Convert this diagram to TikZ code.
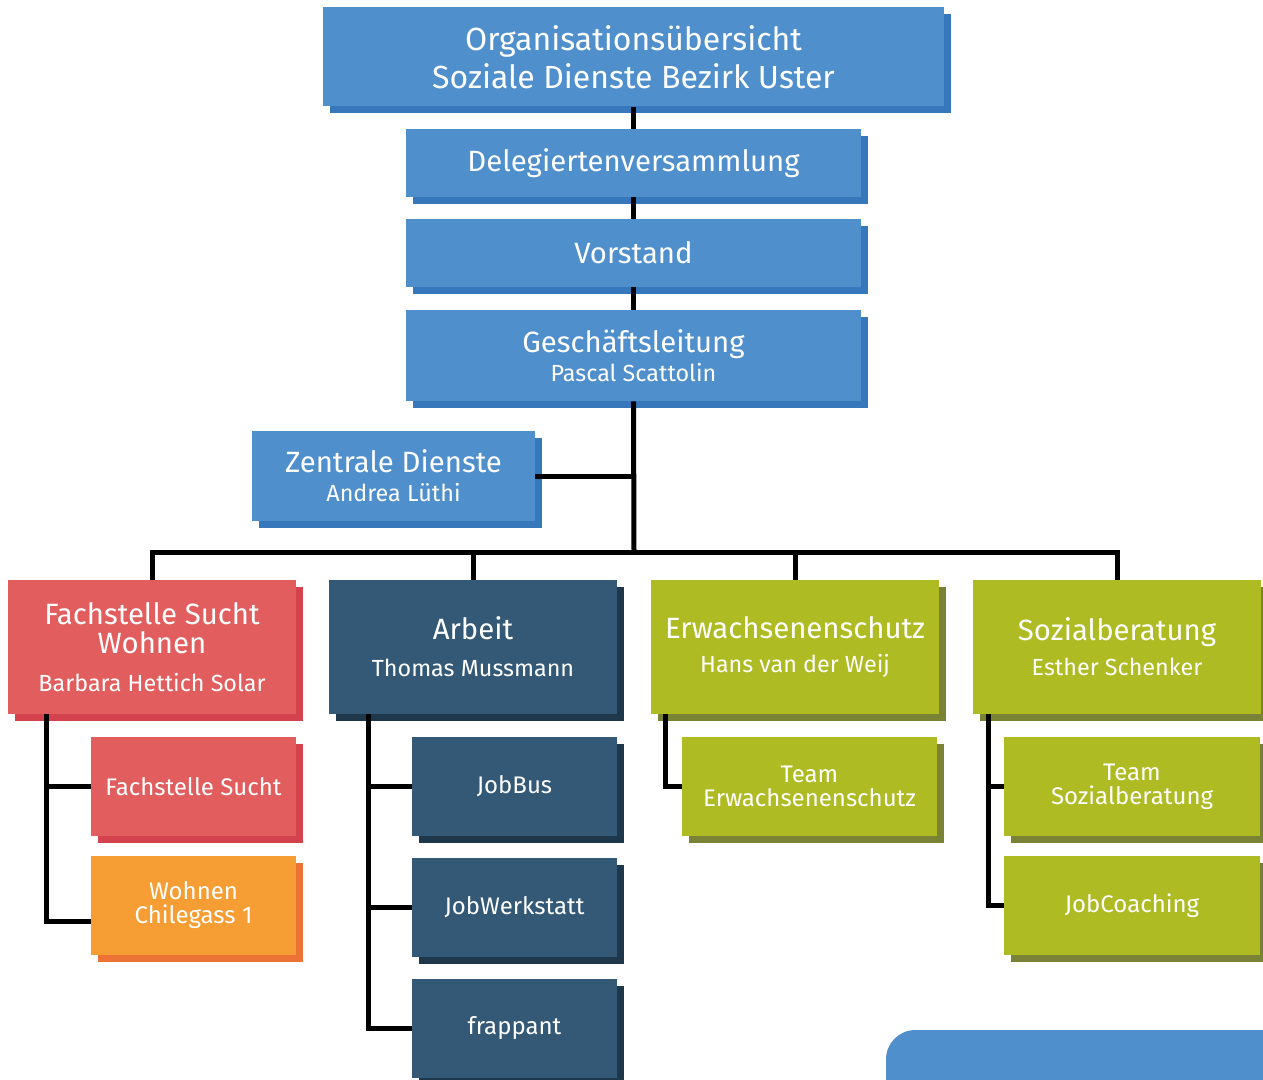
\documentclass[tikz,border=0pt]{standalone}
\usepackage{fontspec}
\setmainfont{Fira Sans}
\usetikzlibrary{positioning,shadows,calc}
\definecolor{blueFace}{HTML}{4F8FCC}
\definecolor{blueShadow}{HTML}{3777BC}
\definecolor{redFace}{HTML}{E25E5E}
\definecolor{redShadow}{HTML}{D4434D}
\definecolor{orangeFace}{HTML}{F69D33}
\definecolor{orangeShadow}{HTML}{EC7235}
\definecolor{darkFace}{HTML}{335977}
\definecolor{darkShadow}{HTML}{1E374B}
\definecolor{greenFace}{HTML}{AEBB22}
\definecolor{greenShadow}{HTML}{7A8235}
\newcommand\titleFont{\fontsize{24}{28.5}\selectfont}
\newcommand\headFont{\fontsize{22}{22}\selectfont}
\newcommand\nameFont{\fontsize{17.5}{20}\selectfont}
\newcommand\subFont{\fontsize{18}{18}\selectfont}
\tikzset{
	%Diagrammes style
	box/.style={
		rectangle,
		text=white,
		align=center,
		inner sep=0pt,
	},
	blueBox/.style={
		box,
		fill=blueFace,
		general shadow={fill=blueShadow, shadow xshift=5.25pt, shadow yshift=-5.25pt},
	},
	redBox/.style={
		box,
		fill=redFace,
		general shadow={fill=redShadow, shadow xshift=5.25pt, shadow yshift=-5.25pt},
	},
	orangeBox/.style={
		box,
		fill=orangeFace,
		general shadow={fill=orangeShadow, shadow xshift=5.25pt, shadow yshift=-5.25pt},
	},
	darkBox/.style={
		box,
		fill=darkFace,
		general shadow={fill=darkShadow, shadow xshift=5.25pt, shadow yshift=-5.25pt},
	},
	greenBox/.style={
		box,
		fill=greenFace,
		general shadow={fill=greenShadow, shadow xshift=5.25pt, shadow yshift=-5.25pt},
	},
	%sizes
	unitBox/.style={
		minimum width=216pt,
		minimum height=100.5pt,
		font=\headFont,
	},
	subBox/.style={
		minimum width=153.75pt,
		minimum height=74.25pt,
		font=\subFont,
	},
	link/.style={
		black,
		line width=3.75pt,
	},
}

\begin{document}
\begin{tikzpicture}[x=0.75pt, y=-0.75pt]
	\useasboundingbox (0,0) rectangle (1263,1080);

	% top of the organisation
	\node (title) at (633.5,57) [blueBox, minimum width=465.75pt, minimum height=74.25pt, font=\titleFont] {Organisationsübersicht\\ Soziale Dienste Bezirk Uster};
	\node (deleg) at (633.5,163) [blueBox, minimum width=341.25pt, minimum height=51pt, font=\headFont] {Delegiertenversammlung};
	\node (vorstand) at (633.5,253) [blueBox, minimum width=341.25pt, minimum height=51pt, font=\headFont] {Vorstand};
	\node (gl) at (633.5,355.5) [blueBox, minimum width=341.25pt, minimum height=68.25pt, font=\headFont] {Geschäftsleitung\\ \nameFont Pascal Scattolin};
	\node (zd) at (393.5,476) [blueBox, minimum width=212.25pt, minimum height=67.5pt, font=\headFont] {Zentrale Dienste\\ \nameFont Andrea Lüthi};
	\coordinate (hub) at (634,552);

	% departments
	\node (fsw) at (152,647) [redBox, unitBox] {Fachstelle Sucht\\ Wohnen\\[6pt] \nameFont Barbara Hettich Solar};
	\node (arbeit) at (473,647) [darkBox, unitBox] {Arbeit\\[6pt] \nameFont Thomas Mussmann};
	\node (erw) at (795,647) [greenBox, unitBox] {Erwachsenenschutz\strut\\[4pt] \nameFont Hans van der Weij};
	\node (soz) at (1117,647) [greenBox, unitBox] {Sozialberatung\strut\\[4pt] \nameFont Esther Schenker};

	% teams
	\node (fs) at (193.5,786.5) [redBox, subBox] {Fachstelle Sucht};
	\node (wohnen) at (193.5,905.5) [orangeBox, subBox] {Wohnen\\ Chilegass 1};
	\node (jobbus) at (514.5,786.5) [darkBox, subBox] {JobBus};
	\node (jobwerk) at (514.5,907.5) [darkBox, subBox] {JobWerkstatt};
	\node (frappant) at (514.5,1028.5) [darkBox, subBox] {frappant};
	\node (teamErw) at (809.5,786.5) [greenBox, subBox, minimum width=191.25pt] {Team\\ Erwachsenenschutz};
	\node (teamSoz) at (1132,786.5) [greenBox, subBox, minimum width=192pt] {Team\\ Sozialberatung};
	\node (coaching) at (1132,905.5) [greenBox, subBox, minimum width=192pt] {JobCoaching};

	% lines
	\draw[link] (title.south) -- (deleg.north);
	\draw[link] (deleg.south) -- (vorstand.north);
	\draw[link] (vorstand.south) -- (gl.north);
	\draw[link] (gl.south) -- (hub);
	\draw[link] (zd.east) -- (zd.east -| hub);
	\draw[link] (fsw.north) |- (hub) -| (soz.north);
	\draw[link] (arbeit.north) -- (arbeit.north |- hub);
	\draw[link] (erw.north) -- (erw.north |- hub);

	\draw[link] ($(fsw.south west)+(39,0)$) |- (fs.west);
	\draw[link] ($(fsw.south west)+(39,0)$) |- ([yshift=-12pt]wohnen.west);
	\draw[link] ($(arbeit.south west)+(40,0)$) |- (jobbus.west);
	\draw[link] ($(arbeit.south west)+(40,0)$) |- (jobwerk.west);
	\draw[link] ($(arbeit.south west)+(40,0)$) |- (frappant.west);
	\draw[link] ($(erw.south west)+(15,0)$) |- (teamErw.west);
	\draw[link] ($(soz.south west)+(16,0)$) |- (teamSoz.west);
	\draw[link] ($(soz.south west)+(16,0)$) |- (coaching.west);

	% corner shape
	\fill[blueFace] (886,1080) [rounded corners=22pt] -- (886,1030) [sharp corners] -- (1263,1030) -- (1263,1080) -- cycle;
\end{tikzpicture}
\end{document}
